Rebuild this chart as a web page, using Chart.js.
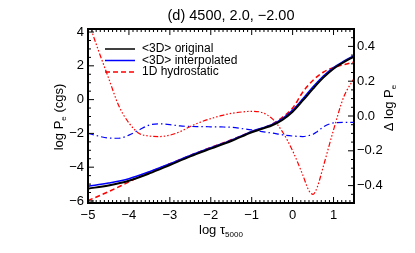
<!DOCTYPE html>
<html lang="en">
<head>
  <meta charset="UTF-8">
  <title>(d) 4500, 2.0, -2.00</title>
  <script src="https://cdn.jsdelivr.net/npm/chart.js"></script>
  <style>
    html, body { margin: 0; padding: 0; background: #fff; }
    canvas { display: block; }
  </style>
</head>
<body>

<canvas id="grafico" width="415" height="253"></canvas>

<script>
  // log tau_5000 grid
  const logTau = [-5, -4.5, -4, -3.5, -3, -2.5, -2, -1.5, -1, -0.5, -0.25, 0, 0.25, 0.5, 0.75, 1, 1.25, 1.5];

  // log Pe (left axis)
  const peOriginal     = [-5.27, -5.08, -4.80, -4.37, -3.87, -3.36, -2.90, -2.45, -1.93, -1.52, -1.20, -0.72, -0.05, 0.65, 1.30, 1.83, 2.22, 2.55];
  const peInterpolated = [-5.13, -4.94, -4.68, -4.27, -3.80, -3.30, -2.85, -2.40, -1.88, -1.47, -1.13, -0.62, 0.05, 0.76, 1.40, 1.90, 2.27, 2.60];
  const peHydrostatic  = [-5.98, -5.45, -4.87, -4.30, -3.80, -3.30, -2.83, -2.38, -1.90, -1.45, -1.05, -0.50, 0.45, 1.15, 1.62, 1.90, 2.07, 2.22];

  // Delta log Pe (right axis)
  const dTau = [-5, -4.75, -4.5, -4.25, -4, -3.75, -3.5, -3.25, -3, -2.75, -2.5, -2.25, -2, -1.75, -1.5, -1.25, -1, -0.75, -0.5, -0.25, 0, 0.25, 0.4, 0.5, 0.6, 0.75, 1, 1.25, 1.5];
  const dHydro  = [0.55, 0.38, 0.22, 0.06, -0.04, -0.10, -0.115, -0.118, -0.11, -0.09, -0.06, -0.035, -0.015, 0.002, 0.015, 0.023, 0.027, 0.02, -0.015, -0.09, -0.20, -0.34, -0.43, -0.45, -0.41, -0.29, -0.08, 0.11, 0.215];
  const dInterp = [-0.10, -0.115, -0.127, -0.128, -0.11, -0.08, -0.052, -0.045, -0.05, -0.057, -0.06, -0.061, -0.062, -0.063, -0.065, -0.072, -0.08, -0.09, -0.098, -0.108, -0.115, -0.118, -0.112, -0.105, -0.09, -0.063, -0.04, -0.037, -0.037];

  const xTicks = [-5, -4, -3, -2, -1, 0, 1];
  const yTicks = [-6, -4, -2, 0, 2, 4];
  const y2Ticks = [-0.4, -0.2, 0.0, 0.2, 0.4];
  const legendNames = ['<3D> original', '<3D> interpolated', '1D hydrostatic'];
  const titulo = '(d) 4500, 2.0, \u22122.00';

  const FONT = '"Liberation Sans", Arial, Helvetica, sans-serif';
  const menos = s => s.replace('-', '\u2212');
  const pares = (xs, ys) => xs.map((x, i) => ({ x, y: ys[i] }));

  // IDL-style box with inward ticks
  const caixa = {
    id: 'caixa',
    afterDatasetsDraw(chart) {
      const { ctx, chartArea: a, scales } = chart;
      ctx.save();
      ctx.strokeStyle = '#000';
      ctx.lineWidth = 1;
      const risco = (x1, y1, x2, y2) => { ctx.beginPath(); ctx.moveTo(x1, y1); ctx.lineTo(x2, y2); ctx.stroke(); };

      for (let i = 0; i <= 65; i++) {
        const px = scales.x.getPixelForValue(-5 + i * 0.1);
        const len = i % 10 === 0 ? 6 : 3;
        risco(px, a.bottom, px, a.bottom - len);
        risco(px, a.top, px, a.top + len);
      }
      for (let i = 0; i <= 20; i++) {
        const py = scales.y.getPixelForValue(-6 + i * 0.5);
        const len = i % 4 === 0 ? 6 : 3;
        risco(a.left, py, a.left + len, py);
      }
      for (let i = 0; i <= 20; i++) {
        const py = scales.y2.getPixelForValue(-0.5 + i * 0.05);
        const len = (i + 2) % 4 === 0 ? 6 : 3;
        risco(a.right, py, a.right - len, py);
      }
      ctx.lineWidth = 2;
      ctx.strokeRect(a.left, a.top, a.width, a.height);
      ctx.restore();
    }
  };

  // text with subscripts, centred on (cx, cy)
  function textoRico(ctx, partes, cx, cy, girar, tam) {
    ctx.save();
    ctx.translate(cx, cy);
    if (girar) ctx.rotate(-Math.PI / 2);
    ctx.fillStyle = '#000';
    ctx.textBaseline = 'alphabetic';
    let total = 0;
    partes.forEach(p => {
      ctx.font = (p.sub ? tam * 0.62 : tam) + 'px ' + FONT;
      p.w = ctx.measureText(p.t).width;
      total += p.w;
    });
    let x = -total / 2;
    partes.forEach(p => {
      ctx.font = (p.sub ? tam * 0.62 : tam) + 'px ' + FONT;
      ctx.fillText(p.t, x, tam * 0.35 + (p.sub ? tam * 0.25 : 0));
      x += p.w;
    });
    ctx.restore();
  }

  const extras = {
    id: 'extras',
    afterDraw(chart) {
      const { ctx, chartArea: a } = chart;
      textoRico(ctx, [{ t: titulo }], 231, 15, false, 14.5);
      textoRico(ctx, [{ t: 'log P' }, { t: 'e', sub: true }, { t: ' (cgs)' }], 58, 117, true, 13);
      textoRico(ctx, [{ t: '\u0394 log P' }, { t: 'e', sub: true }], 388, 108, true, 13);
      textoRico(ctx, [{ t: 'log \u03c4' }, { t: '5000', sub: true }], (a.left + a.right) / 2, 229, false, 13);

      // legend inside the plot
      const ds = chart.data.datasets;
      ctx.save();
      ctx.font = '12px ' + FONT;
      ctx.textBaseline = 'middle';
      legendNames.forEach((nome, i) => {
        const y = a.top + 20 + i * 11.5;
        ctx.strokeStyle = ds[i].borderColor;
        ctx.lineWidth = 1.5;
        ctx.setLineDash(ds[i].borderDash || []);
        ctx.beginPath();
        ctx.moveTo(105, y);
        ctx.lineTo(135, y);
        ctx.stroke();
        ctx.setLineDash([]);
        ctx.fillStyle = '#000';
        ctx.fillText(nome, 142, y);
      });
      ctx.restore();
    }
  };

  new Chart(document.getElementById('grafico'), {
    type: 'line',
    data: {
      datasets: [
        { label: legendNames[0], data: pares(logTau, peOriginal), borderColor: '#000000', borderWidth: 2, yAxisID: 'y' },
        { label: legendNames[1], data: pares(logTau, peInterpolated), borderColor: '#0000ff', borderWidth: 1.5, yAxisID: 'y' },
        { label: legendNames[2], data: pares(logTau, peHydrostatic), borderColor: '#ff0000', borderWidth: 1.5, borderDash: [5, 3], yAxisID: 'y' },
        { label: 'delta 1D', data: pares(dTau, dHydro), borderColor: '#ff0000', borderWidth: 1.2, borderDash: [5, 2, 1.5, 2, 1.5, 2, 1.5, 2], yAxisID: 'y2' },
        { label: 'delta interp', data: pares(dTau, dInterp), borderColor: '#0000ff', borderWidth: 1.2, borderDash: [6, 3, 1.5, 3], yAxisID: 'y2' }
      ]
    },
    options: {
      responsive: false,
      animation: false,
      elements: { point: { radius: 0 }, line: { cubicInterpolationMode: 'monotone' } },
      layout: { padding: { top: 29, left: 0, right: 0, bottom: 0 } },
      plugins: {
        legend: { display: false },
        tooltip: { enabled: false },
        title: { display: false }
      },
      scales: {
        x: {
          type: 'linear', min: -5, max: 1.5,
          grid: { display: false, drawTicks: false }, border: { display: false },
          afterBuildTicks: s => { s.ticks = xTicks.map(v => ({ value: v })); },
          afterFit: s => { s.height = 50; },
          ticks: { color: '#000', padding: 5, maxRotation: 0, font: { family: FONT, size: 13 }, callback: v => menos(String(v)) }
        },
        y: {
          type: 'linear', position: 'left', min: -6.12, max: 4.18,
          grid: { display: false, drawTicks: false }, border: { display: false },
          afterBuildTicks: s => { s.ticks = yTicks.map(v => ({ value: v })); },
          afterFit: s => { s.width = 88; },
          ticks: { color: '#000', padding: 4, font: { family: FONT, size: 13 }, callback: v => menos(String(v)) }
        },
        y2: {
          type: 'linear', position: 'right', min: -0.5, max: 0.5,
          grid: { display: false, drawTicks: false }, border: { display: false },
          afterBuildTicks: s => { s.ticks = y2Ticks.map(v => ({ value: v })); },
          afterFit: s => { s.width = 61; },
          ticks: { color: '#000', padding: 3, font: { family: FONT, size: 13 }, callback: v => menos(Number(v).toFixed(1)) }
        }
      }
    },
    plugins: [caixa, extras]
  });
</script>

</body>
</html>
